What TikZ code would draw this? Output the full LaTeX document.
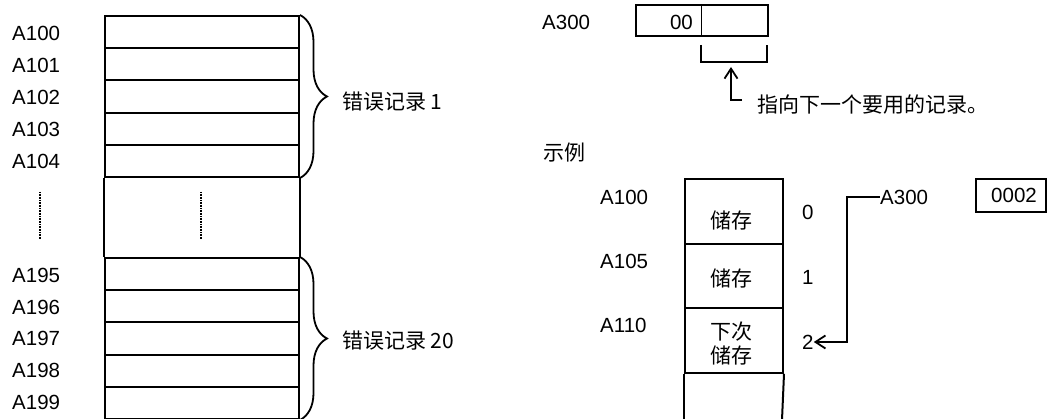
\documentclass[tikz,border=0pt]{standalone}
\usepackage{fontspec}
\setmainfont{Liberation Sans}
\newfontfamily\cjk{Noto Sans CJK SC}
\usetikzlibrary{decorations.pathreplacing,arrows.meta}
\begin{document}
\begin{tikzpicture}[x=1pt,y=-1pt,
  lbl/.style={font=\fontsize{20.5}{24}\selectfont, inner sep=0, anchor=west},
  cjkl/.style={font=\cjk\fontsize{21}{25}\selectfont, inner sep=0, anchor=west},
  cjkc/.style={font=\cjk\fontsize{21}{25}\selectfont, inner sep=0},
  cell/.style={draw, line width=2pt, minimum width=194pt, minimum height=32.2pt, inner sep=0, anchor=north west},
  ecell/.style={draw, line width=2pt, minimum width=98pt, minimum height=64.6pt, inner sep=0, anchor=north west},
  wire/.style={line width=1.8pt},
  bracestyle/.style={line width=1.8pt, decorate, decoration={brace, amplitude=27pt}},
  barb/.style={wire, -{Straight Barb[length=10pt,width=13pt,line width=1.8pt]}},
  dotline/.style={line width=1.2pt, dash pattern=on 1pt off 0.6pt}
]
\useasboundingbox (0,0) rectangle (1047,419);

% ---- left memory map ----
\foreach \i/\y in {0/15,1/47.2,2/79.4,3/111.6,4/143.8}{
  \node[cell] (ra\i) at (104,\y) {};
}
\foreach \i/\y in {0/257,1/289.2,2/321.4,3/353.6,4/385.8}{
  \node[cell] (rb\i) at (104,\y) {};
}
\draw[line width=2pt] (ra4.south west) -- (rb0.north west);
\draw[line width=2pt] (ra4.south east) -- (rb0.north east);

\node[lbl] (l100) at (12,33) {A100};
\node[lbl] (l101) at (12,65) {A101};
\node[lbl] (l102) at (12,97) {A102};
\node[lbl] (l103) at (12,129) {A103};
\node[lbl] (l104) at (12,161) {A104};
\node[lbl] (l195) at (12,275) {A195};
\node[lbl] (l196) at (12,307) {A196};
\node[lbl] (l197) at (12,338) {A197};
\node[lbl] (l198) at (12,370) {A198};
\node[lbl] (l199) at (12,402) {A199};

\draw[dotline] (40,192) -- (40,239);
\draw[dotline] (201,192) -- (201,239);

\draw[bracestyle] (ra0.north east) -- (ra4.south east);
\draw[bracestyle] (rb0.north east) -- (rb4.south east);
\node[cjkl] (rec1) at (342,102) {错误记录 1};
\node[cjkl] (rec20) at (342,341) {错误记录 20};

% ---- A300 register ----
\node[lbl] (a300) at (542,22) {A300};
\node[draw, line width=2pt, minimum width=132pt, minimum height=31pt, inner sep=0, anchor=north west] (reg) at (635,4) {};
\draw[line width=0.8pt] (701,4) -- (701,35);
\node[lbl, anchor=east] (v00) at (693,22) {00};
\draw[wire] (701,45) -- (701,62) -- (767,62) -- (767,45);
\coordinate (brk) at (731,67);
\coordinate (noteL) at (742,100);
\draw[barb] (noteL) -| (brk);
\node[cjkl] (note) at (757,105) {指向下一个要用的记录。};

% ---- example ----
\node[cjkl] (ex) at (543,153) {示例};

\node[ecell] (e0) at (684,178) {};
\node[ecell] (e1) at (684,242.6) {};
\node[ecell] (e2) at (684,307.2) {};
\draw[line width=2pt] (e2.south west) -- (684,420);
\draw[line width=2pt] (e2.south east) -- (782,420);

\node[cjkc] (s0) at (731,220) {储存};
\node[cjkc] (s1) at (731,278) {储存};
\node[cjkc] (s2a) at (731,332) {下次};
\node[cjkc] (s2b) at (731,355) {储存};

\node[lbl] (x100) at (600,197) {A100};
\node[lbl] (x105) at (600,261) {A105};
\node[lbl] (x110) at (600,325) {A110};

\node[lbl] (n0) at (802,212) {0};
\node[lbl] (n1) at (802,277) {1};
\node[lbl] (n2) at (802,342) {2};

\node[lbl] (a300e) at (880,197) {A300};
\node[draw, line width=2pt, minimum width=70pt, minimum height=33pt, inner sep=0, anchor=north west] (reg2) at (975,178) {};
\node[font=\fontsize{20.5}{24}\selectfont, inner sep=0] (v0002) at (1014,195) {0002};

\draw[barb] (a300e.west) -- ++(-33,0) |- (n2.east);
\end{tikzpicture}
\end{document}
